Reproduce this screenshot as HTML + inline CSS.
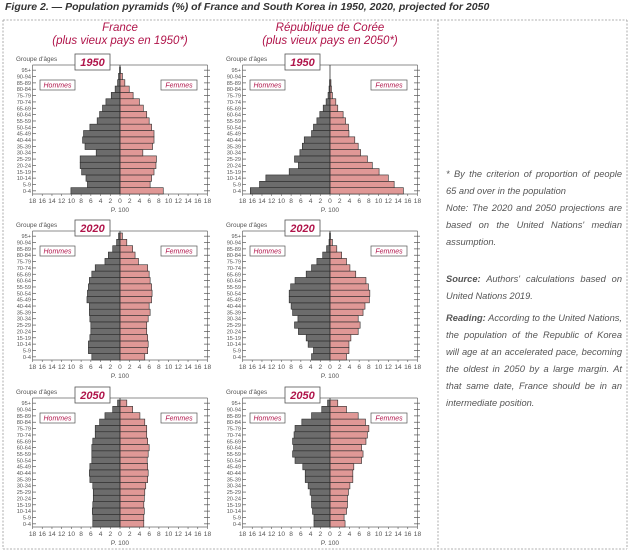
<!DOCTYPE html>
<html><head><meta charset="utf-8">
<style>
html,body{margin:0;padding:0;background:#fff;}
body{width:629px;height:552px;position:relative;overflow:hidden;font-family:"Liberation Sans",sans-serif;}
#t{position:absolute;left:5px;top:1px;font-size:10.5px;font-weight:bold;font-style:italic;color:#333;white-space:nowrap;}
.n{position:absolute;left:446px;width:176px;font-size:9.3px;font-style:italic;color:#555;line-height:17px;text-align:justify;}
svg text{font-family:"Liberation Sans",sans-serif;}
</style></head><body>
<div id="t">Figure 2. — Population pyramids (%) of France and South Korea in 1950, 2020, projected for 2050</div>
<svg width="629" height="552" style="position:absolute;left:0;top:0">
<g stroke="#999" stroke-width="0.8" stroke-dasharray="2,1.5" fill="none">
<line x1="3" y1="20" x2="627" y2="20"/><line x1="3" y1="549" x2="627" y2="549"/>
<line x1="3" y1="20" x2="3" y2="549"/><line x1="627" y1="20" x2="627" y2="549"/>
<line x1="438" y1="20" x2="438" y2="549"/>
</g>
<g font-style="italic" fill="#b0144a" text-anchor="middle" font-size="11.5">
<text x="120" y="31">France</text><text x="120" y="44">(plus vieux pays en 1950*)</text>
<text x="330" y="31">République de Corée</text><text x="330" y="44">(plus vieux pays en 2050*)</text>
</g>
<g id="bars"></g>
</svg>
<div class="n" style="top:166px">* By the criterion of proportion of people 65 and over in the population<br>Note: The 2020 and 2050 projections are based on the United Nations' median assumption.</div>
<div class="n" style="top:271px"><b>Source:</b> Authors' calculations based on United Nations 2019.</div>
<div class="n" style="top:310px"><b>Reading:</b> According to the United Nations, the population of the Republic of Korea will age at an accelerated pace, becoming the oldest in 2050 by a large margin. At that same date, France should be in an intermediate position.</div>
<script>
var ages=["0-4","5-9","10-14","15-19","20-24","25-29","30-34","35-39","40-44","45-49","50-54","55-59","60-64","65-69","70-74","75-79","80-84","85-89","90-94","95+"];
var P=[
[120,194,"1950",[10.1,6.7,7.0,7.9,8.2,8.2,4.9,7.2,7.7,7.5,6.2,4.7,4.2,3.6,2.9,1.8,1.0,0.5,0.3,0.1],[8.9,6.2,6.5,7.0,7.4,7.5,4.7,6.7,7.0,7.0,6.5,6.0,5.5,4.8,4.0,2.7,1.9,1.0,0.5,0.1]],
[330,194,"1950",[16.4,14.5,13.2,8.4,6.5,7.3,6.2,5.7,5.3,3.8,3.4,2.7,2.1,1.4,0.8,0.4,0.2,0.1,0,0],[15.1,13.2,12.0,10.1,8.7,7.7,6.3,5.8,5.1,3.9,3.8,3.2,2.7,1.6,1.2,0.5,0.3,0.2,0,0]],
[120,360,"2020",[5.8,6.5,6.5,6.2,6.0,6.0,6.2,6.3,6.3,6.8,6.7,6.5,6.3,5.8,5.1,3.1,2.4,1.5,0.7,0.3],[5.1,5.7,5.8,5.7,5.5,5.5,5.8,6.2,6.0,6.5,6.6,6.5,6.2,6.0,5.7,3.8,3.1,2.6,1.4,0.5]],
[330,360,"2020",[3.8,3.4,4.5,4.9,6.5,7.3,6.6,7.7,8.0,8.4,8.4,8.1,7.2,4.9,3.8,2.7,1.5,0.7,0.2,0.1],[3.4,3.9,3.9,4.3,5.8,6.2,5.8,6.8,7.2,8.1,8.2,7.9,7.4,5.3,4.1,3.4,2.4,1.4,0.5,0.1]],
[120,527,"2050",[5.6,5.6,5.7,5.6,5.5,5.5,5.6,6.2,6.3,6.2,5.8,5.8,5.8,5.6,5.1,5.1,4.2,3.1,1.5,0.5],[4.9,4.9,5.0,4.9,5.0,5.1,5.3,5.7,5.8,5.7,5.6,5.8,6.0,5.7,5.5,5.5,5.1,4.1,2.6,1.4]],
[330,527,"2050",[3.3,3.3,3.6,3.8,3.8,4.1,4.5,5.1,5.1,5.6,7.2,7.7,7.5,7.7,7.4,7.2,5.8,3.8,1.7,0.5],[3.1,2.9,3.4,3.6,3.6,3.8,4.1,4.7,4.7,4.9,6.5,6.8,6.5,7.4,7.7,8.0,7.3,5.8,3.4,1.6]]
];
var s=4.86,h=6.35,out="";
P.forEach(function(p){
 var cx=p[0],yb=p[1];
 out+='<g transform="translate('+cx+','+yb+')">';
 out+='<line x1="-87.5" y1="'+(-20*h-2)+'" x2="87.5" y2="'+(-20*h-2)+'" stroke="#666" stroke-width="0.7"/>';
 out+='<line x1="-87.5" y1="'+(-20*h-2)+'" x2="-87.5" y2="0" stroke="#666" stroke-width="0.7"/>';
 out+='<line x1="87.5" y1="'+(-20*h-2)+'" x2="87.5" y2="0" stroke="#666" stroke-width="0.7"/>';
 out+='<line x1="-87.5" y1="0" x2="87.5" y2="0" stroke="#666" stroke-width="0.7"/>';
 for(var i=0;i<20;i++){
  var y=-(i+1)*h;
  out+='<rect x="'+(-p[3][i]*s)+'" y="'+y+'" width="'+(p[3][i]*s)+'" height="'+h+'" fill="#6c6c6c" stroke="#2a2a2a" stroke-width="0.6"/>';
  out+='<rect x="0" y="'+y+'" width="'+(p[4][i]*s)+'" height="'+h+'" fill="#e09896" stroke="#2a2a2a" stroke-width="0.6"/>';
  var ty=-(i+0.5)*h;
  out+='<line x1="-87.5" y1="'+ty+'" x2="-84" y2="'+ty+'" stroke="#555" stroke-width="0.7"/>';
  out+='<line x1="84" y1="'+ty+'" x2="90" y2="'+ty+'" stroke="#555" stroke-width="0.7"/>';
  out+='<text x="-89" y="'+(ty+2)+'" font-size="5.6" fill="#555" text-anchor="end">'+ages[i]+'</text>';
 }
 out+='<line x1="0" y1="'+(-20*h-2)+'" x2="0" y2="0" stroke="#333" stroke-width="0.8"/>';
 for(var v=-18;v<=18;v+=2){
  out+='<line x1="'+v*s+'" y1="0" x2="'+v*s+'" y2="2" stroke="#555" stroke-width="0.6"/>';
  out+='<text x="'+v*s+'" y="9" font-size="6.6" fill="#555" text-anchor="middle">'+Math.abs(v)+'</text>';
 }
 out+='<text x="0" y="18" font-size="6.6" fill="#555" text-anchor="middle">P. 100</text>';
 out+='<text x="-104" y="-133" font-size="6.3" fill="#555">Groupe d\'âges</text>';
 out+='<rect x="-45" y="-140" width="35" height="16" fill="#fff" stroke="#555" stroke-width="0.8"/>';
 out+='<text x="-27.5" y="-128" font-size="11" font-style="italic" font-weight="bold" fill="#b0144a" text-anchor="middle">'+p[2]+'</text>';
 out+='<rect x="-80" y="-114" width="35" height="10" fill="#fff" stroke="#555" stroke-width="0.7"/>';
 out+='<text x="-62.5" y="-106.5" font-size="7" font-style="italic" fill="#b0144a" text-anchor="middle">Hommes</text>';
 out+='<rect x="41" y="-114" width="36" height="10" fill="#fff" stroke="#555" stroke-width="0.7"/>';
 out+='<text x="59" y="-106.5" font-size="7" font-style="italic" fill="#b0144a" text-anchor="middle">Femmes</text>';
 out+='</g>';
});
document.getElementById("bars").innerHTML=out;
</script>
</body></html>
